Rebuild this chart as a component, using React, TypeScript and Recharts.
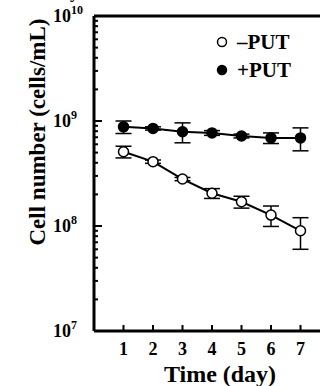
// Cell number vs. time, with and without PUT

import { ErrorBar, Legend, Line, LineChart, ReferenceLine, XAxis, YAxis } from "recharts";

const days = [1, 2, 3, 4, 5, 6, 7];
const minusPut = [5.1e8, 4.1e8, 2.8e8, 2.05e8, 1.7e8, 1.27e8, 0.9e8];
const minusPutErr = [0.65e8, 0.15e8, 0.1e8, 0.22e8, 0.22e8, 0.28e8, 0.3e8];
const plusPut = [8.8e8, 8.5e8, 7.9e8, 7.7e8, 7.2e8, 6.9e8, 6.9e8];
const plusPutErr = [1.2e8, 0.3e8, 1.7e8, 0.4e8, 0.3e8, 0.8e8, 1.7e8];

const majorTicks = [1e7, 1e8, 1e9, 1e10];
const minorSteps = [2, 3, 4, 5, 6, 7, 8, 9];
const yTicks = [
  ...majorTicks,
  ...majorTicks.slice(0, 3).flatMap((m) => minorSteps.map((s) => m * s)),
];
const xTicks = [1, 2, 3, 4, 5, 6, 7];

const data = days.map((d, i) => ({
  day: d,
  minus: minusPut[i],
  minusErr: minusPutErr[i],
  plus: plusPut[i],
  plusErr: plusPutErr[i],
}));

const FONT = "'Liberation Serif', 'DejaVu Serif', serif";

function YTick({ x, y, payload }: any) {
  const v = payload.value;
  const exp = Math.round(Math.log10(v));
  const major = Math.abs(v - Math.pow(10, exp)) < 1;
  return (
    <g>
      <line x1={x} x2={x + (major ? 8 : 4)} y1={y} y2={y} stroke="#000" strokeWidth={2} />
      {major && (
        <text x={x - 41} y={y + 6} fontFamily={FONT} fontWeight="bold" fontSize={18} fill="#000">
          10
          <tspan fontSize={12} dy={-8}>
            {exp}
          </tspan>
        </text>
      )}
    </g>
  );
}

function XTick({ x, y, payload }: any) {
  return (
    <g>
      <line x1={x} x2={x} y1={y} y2={y - 6} stroke="#000" strokeWidth={2} />
      <text x={x} y={y + 24} textAnchor="middle" fontFamily={FONT} fontWeight="bold" fontSize={18} fill="#000">
        {payload.value}
      </text>
    </g>
  );
}

function LegendBox() {
  const rows = [
    { name: "\u2013PUT", fill: "#fff" },
    { name: "+PUT", fill: "#000" },
  ];
  return (
    <div style={{ fontFamily: FONT, fontWeight: "bold", fontSize: 21, color: "#000" }}>
      {rows.map((r) => (
        <div key={r.name} style={{ display: "flex", alignItems: "center", height: 28 }}>
          <svg width={12} height={12} style={{ marginRight: 9 }}>
            <circle cx={6} cy={6} r={4.5} fill={r.fill} stroke="#000" strokeWidth={1.5} />
          </svg>
          <span>{r.name}</span>
        </div>
      ))}
    </div>
  );
}

export default function App() {
  return (
    <div style={{ position: "absolute", left: 0, top: 0, width: 320, height: 386, overflow: "hidden", background: "#fff" }}>
      <LineChart width={330} height={386} data={data} margin={{ top: 16, right: 0, bottom: 0, left: 0 }}>
        <XAxis
          dataKey="day"
          type="number"
          domain={[0, 8]}
          ticks={xTicks}
          height={55}
          tickSize={0}
          tickMargin={0}
          tickLine={false}
          axisLine={{ stroke: "#000", strokeWidth: 3 }}
          tick={<XTick />}
          label={{
            content: () => (
              <text x={220} y={382} textAnchor="middle" fontFamily={FONT} fontWeight="bold" fontSize={24} fill="#000">
                Time (day)
              </text>
            ),
          }}
        />
        <YAxis
          scale="log"
          domain={[1e7, 1e10]}
          allowDataOverflow
          ticks={yTicks}
          width={94}
          tickSize={0}
          tickMargin={0}
          tickLine={false}
          interval={0}
          axisLine={{ stroke: "#000", strokeWidth: 3 }}
          tick={<YTick />}
          label={{
            content: () => (
              <g>
                <text
                  x={37}
                  y={132}
                  transform="rotate(-90 37 132)"
                  textAnchor="middle"
                  dominantBaseline="central"
                  fontFamily={FONT}
                  fontWeight="bold"
                  fontSize={23}
                  fill="#000"
                >
                  Cell number (cells/mL)
                </text>
                <text x={70} y={-2} fontFamily={FONT} fontWeight="bold" fontSize={18} fill="#000">
                  y
                </text>
              </g>
            ),
          }}
        />
        <ReferenceLine y={1e10} stroke="#000" strokeWidth={3} />
        <Legend
          layout="horizontal"
          align="center"
          verticalAlign="middle"
          content={<LegendBox />}
          wrapperStyle={{ position: "absolute", left: 216, top: 28, width: "auto", height: "auto" }}
        />
        <Line
          dataKey="plus"
          name="+PUT"
          stroke="#000"
          strokeWidth={2}
          dot={{ r: 5, fill: "#000", stroke: "#000", strokeWidth: 1.5 }}
          isAnimationActive={false}
        >
          <ErrorBar dataKey="plusErr" width={8} stroke="#000" strokeWidth={1.5} />
        </Line>
        <Line
          dataKey="minus"
          name="-PUT"
          stroke="#000"
          strokeWidth={2}
          dot={{ r: 5, fill: "#fff", stroke: "#000", strokeWidth: 1.5 }}
          isAnimationActive={false}
        >
          <ErrorBar dataKey="minusErr" width={8} stroke="#000" strokeWidth={1.5} />
        </Line>
      </LineChart>
    </div>
  );
}
